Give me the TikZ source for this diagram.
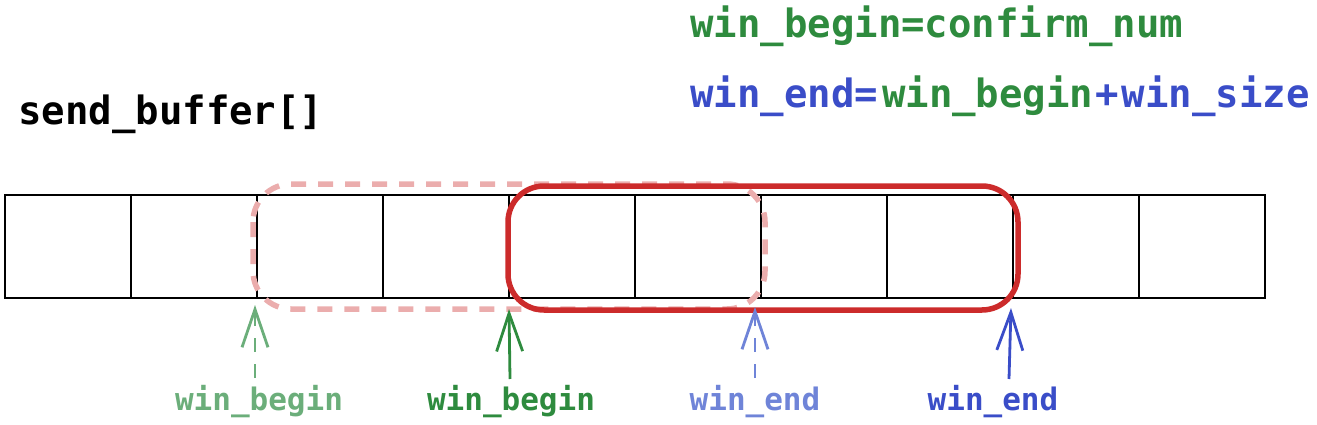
\documentclass[tikz,border=0pt]{standalone}
\usepackage{fontspec}
\setmonofont{DejaVu Sans Mono}
\usetikzlibrary{arrows.meta}
\definecolor{dgreen}{HTML}{2E8B3E}
\definecolor{lgreen}{HTML}{6BAE7A}
\definecolor{dblue}{HTML}{3A4DC8}
\definecolor{lblue}{HTML}{6F84D8}
\definecolor{wred}{HTML}{CC2B2B}
\definecolor{wpink}{HTML}{EBADAD}
\tikzset{
  cell/.style={draw=black, line width=2.3pt, minimum width=126pt, minimum height=103pt, inner sep=0pt, outer sep=0pt},
  bigtxt/.style={font=\ttfamily\bfseries\fontsize{39}{42}\selectfont, inner sep=0pt, anchor=base west},
  lbl/.style={font=\ttfamily\bfseries\fontsize{31}{33}\selectfont, inner sep=0pt, anchor=base},
  ptr/.style={line width=2.8pt, -{Straight Barb[length=38pt,width=26pt,line width=2.8pt]}},
  dptr/.style={ptr, dash pattern=on 14pt off 12pt},
}
\begin{document}
\begin{tikzpicture}[x=1pt,y=-1pt]
\useasboundingbox (0,0) rectangle (1317,425);
% cells
\foreach \i in {0,...,9}{
  \node[cell] (c\i) at ({5+63+126*\i},246.5) {};
}
% windows
\draw[wpink, line width=5.5pt, dash pattern=on 15pt off 12pt, rounded corners=38pt] (253,184) rectangle (765,309);
\draw[wred, line width=5.5pt, rounded corners=36pt] (508,186) rectangle (1018,310);
% texts
\node[bigtxt] (t1) at (690,38) {\color{dgreen}win\_begin=confirm\_num};
\node[bigtxt] (t2) at (690,108) {\color{dblue}win\_end=\kern4pt\color{dgreen}win\_begin\kern2pt\color{dblue}+\kern3pt win\_size};
\node[bigtxt] (sb) at (18,125) {send\_buffer[]};
% labels
\node[lbl, lgreen] (l1) at (259,410) {win\_begin};
\node[lbl, dgreen] (l2) at (511,410) {win\_begin};
\node[lbl, lblue] (l3) at (755,410) {win\_end};
\node[lbl, dblue] (l4) at (993,410) {win\_end};
% pointer tips
\coordinate (p1) at (255,305);
\coordinate (p2) at (509,309);
\coordinate (p3) at (755,307);
\coordinate (p4) at (1011,308);
\draw[dptr, lgreen] (255,378) -- (p1);
\draw[ptr, dgreen] (510,379) -- (p2);
\draw[dptr, lblue] (755,378) -- (p3);
\draw[ptr, dblue] (1009,379) -- (p4);
\end{tikzpicture}
\end{document}
